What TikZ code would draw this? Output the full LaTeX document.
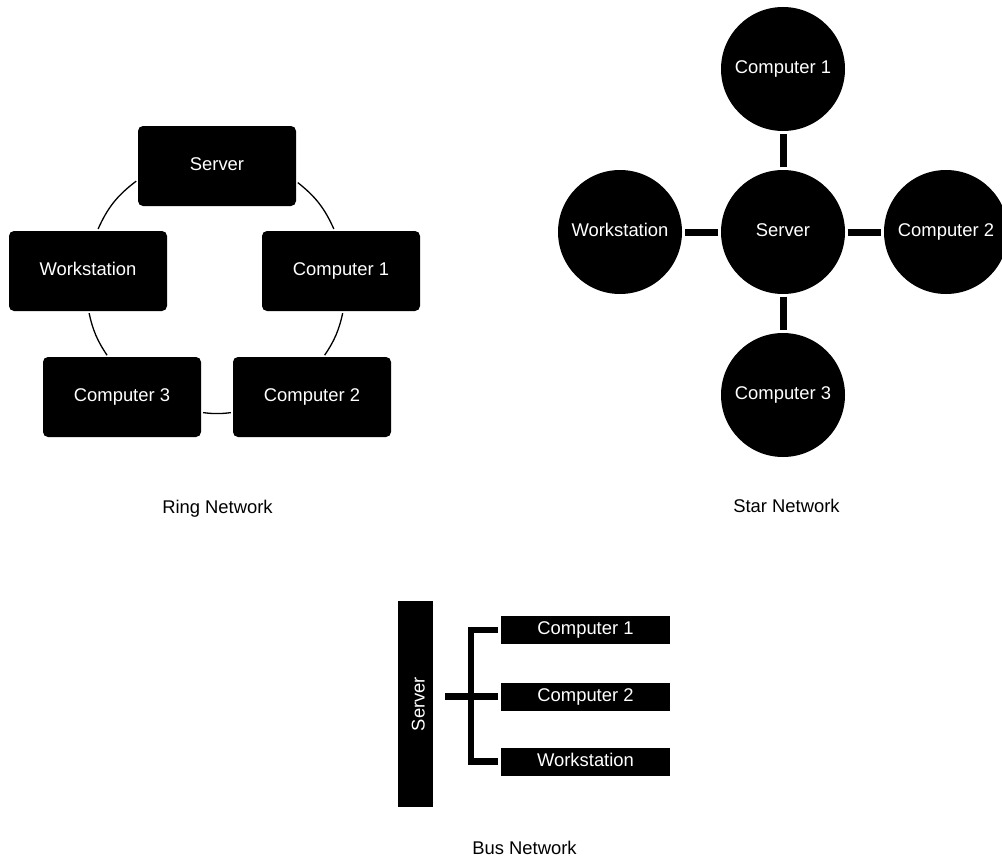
\documentclass[tikz,border=0pt]{standalone}
\usepackage{fontspec}
\setmainfont{Liberation Sans}
\usetikzlibrary{shapes}
\tikzstyle{ringbox}=[rectangle,rounded corners=5pt,fill=black,text=white,minimum width=158pt,minimum height=80pt,inner sep=0pt,text height=13pt,text depth=4pt]
\tikzstyle{starnode}=[circle,fill=black,text=white,minimum size=124pt,inner sep=0pt,text height=13pt,text depth=4pt]
\tikzstyle{busbox}=[rectangle,fill=black,text=white,minimum width=169pt,minimum height=28pt,inner sep=0pt,text height=13pt,text depth=4pt]
\tikzstyle{caption}=[inner sep=0pt,text height=13pt,text depth=4pt]

\begin{document}
\begin{tikzpicture}[x=1pt,y=1pt,font=\fontsize{18.4}{22}\selectfont]
    \tikzstyle{ring}=[line width=1.3pt,shorten >=2pt,shorten <=2pt]
    \tikzstyle{starline}=[line width=7pt,shorten >=2.5pt,shorten <=2.5pt]
    \tikzstyle{busline}=[line width=6.5pt,shorten >=3pt,shorten <=3pt]
    \useasboundingbox (0,0) rectangle (1002,-859);
    % ring
    \node[ringbox] (RS) at (217,-166) {Server};
    \node[ringbox] (RW) at (88,-271)  {Workstation};
    \node[ringbox] (R1) at (341,-271) {Computer 1};
    \node[ringbox] (R3) at (122,-397) {Computer 3};
    \node[ringbox] (R2) at (312,-397) {Computer 2};
    \draw[ring] (RS.190) to[bend right=14.5] (RW.77);
    \draw[ring] (RS.349) to[bend left=14] (R1.99);
    \draw[ring] (R1.273) to[bend left=11] (R2.74);
    \draw[ring] (R2.191) to[bend left=7] (R3.349);
    \draw[ring] (R3.109) to[bend left=11] (RW.271);
    \node[caption] (RL) at (217.5,-508.5) {Ring Network};
    % star
    \node[starnode] (SS) at (783,-232) {Server};
    \node[starnode] (S1) at (783,-69)  {Computer 1};
    \node[starnode] (SW) at (620,-232) {Workstation};
    \node[starnode] (S2) at (946,-232) {Computer 2};
    \node[starnode] (S3) at (783,-395) {Computer 3};
    \draw[starline] (SS) -- (S1);
    \draw[starline] (SS) -- (SW);
    \draw[starline] (SS) -- (S2);
    \draw[starline] (SS) -- (S3);
    \node[caption] (SL) at (786.5,-508) {Star Network};
    % bus
    \node[busbox,rotate=90,minimum width=206pt,minimum height=35pt,text height=18pt,text depth=0pt] (BS) at (415.5,-704) {Server};
    \node[busbox] (B1) at (585.5,-630)   {Computer 1};
    \node[busbox] (B2) at (585.5,-696.5) {Computer 2};
    \node[busbox] (BW) at (585.5,-761.5) {Workstation};
    \coordinate (BT) at (471,-630);
    \draw[busline] (B1.west) -- (BT) |- (BW.west);
    \draw[busline,shorten <=12pt] (BS.south |- B2.west) -- (B2.west);
    \node[caption] (BL) at (524.5,-850) {Bus Network};
\end{tikzpicture}
\end{document}
